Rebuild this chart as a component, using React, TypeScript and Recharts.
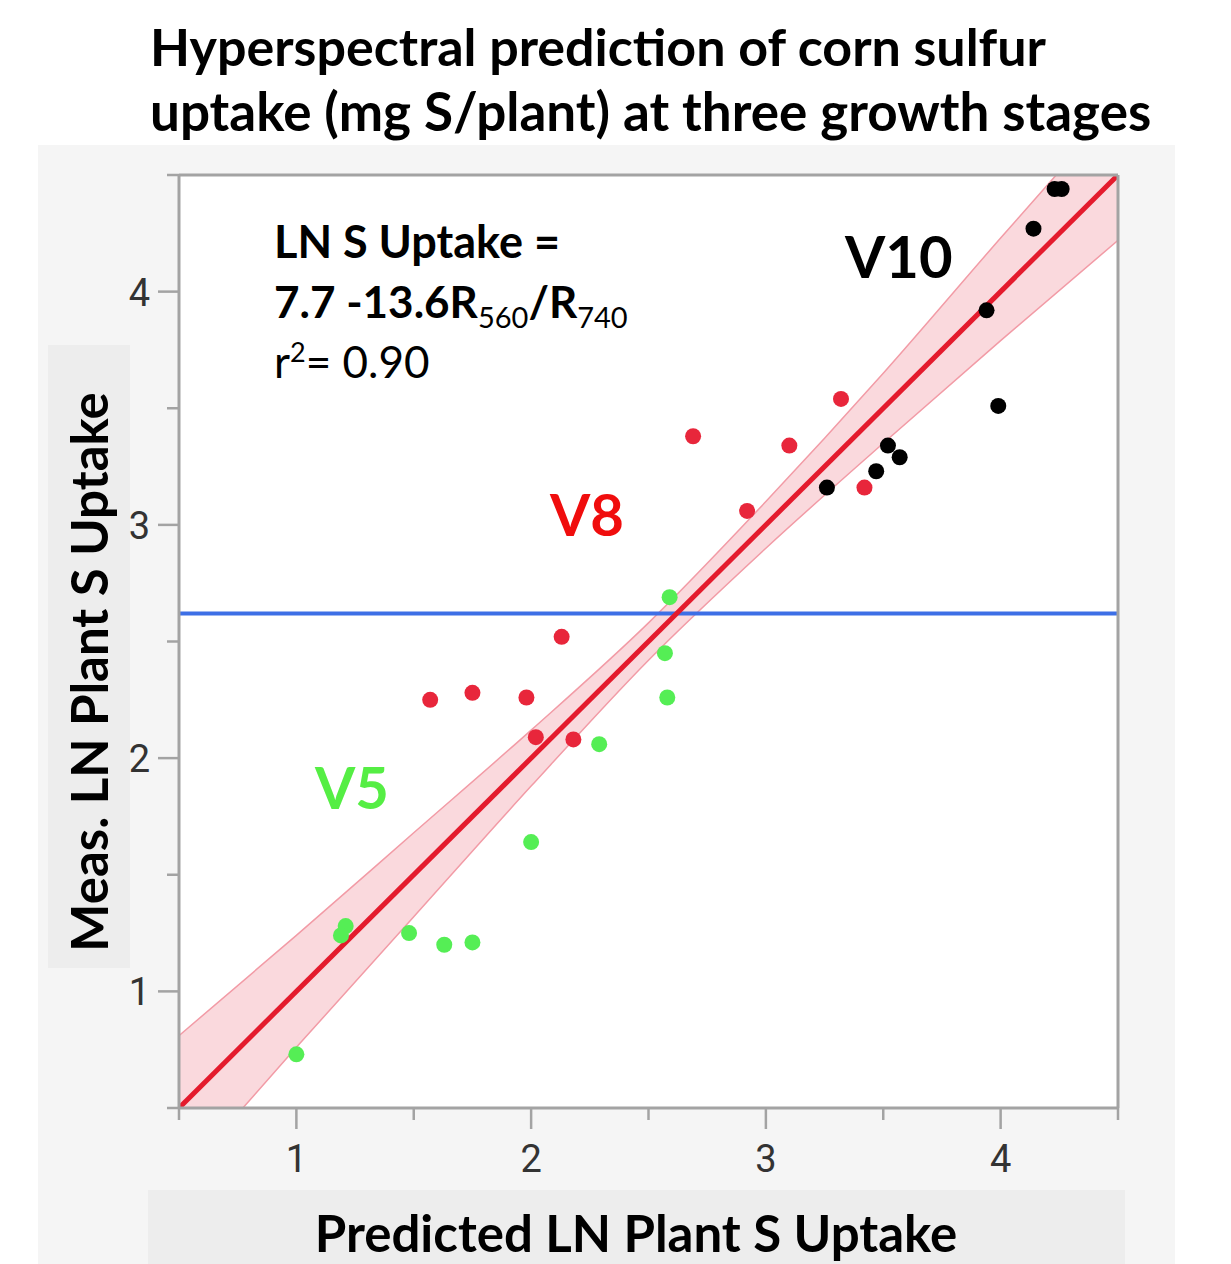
import React from "react";
import {
  ComposedChart,
  Area,
  Line,
  Scatter,
  XAxis,
  YAxis,
  CartesianGrid,
  ReferenceLine,
} from "recharts";

// predicted (x) vs measured (y) LN plant S uptake, per growth stage
const v5Pred = [1.0, 1.21, 1.19, 1.48, 1.63, 1.75, 2.0, 2.29, 2.58, 2.57, 2.59];
const v5Meas = [0.73, 1.28, 1.24, 1.25, 1.2, 1.21, 1.64, 2.06, 2.26, 2.45, 2.69];
const v8Pred = [1.57, 1.75, 1.98, 2.13, 2.02, 2.18, 2.92, 2.69, 3.1, 3.32, 3.42];
const v8Meas = [2.25, 2.28, 2.26, 2.52, 2.09, 2.08, 3.06, 3.38, 3.34, 3.54, 3.16];
const v10Pred = [3.26, 3.47, 3.52, 3.57, 3.99, 3.94, 4.14, 4.23, 4.26];
const v10Meas = [3.16, 3.23, 3.34, 3.29, 3.51, 3.92, 4.27, 4.44, 4.44];

// fit line and its confidence band
const fitX = [0.5, 4.5];
const fitY = [0.5, 4.5];
const bandX = [0.5, 1, 1.5, 2, 2.5, 3, 3.5, 4, 4.5];
const bandLow = [0.19, 0.76, 1.32, 1.88, 2.42, 2.9, 3.35, 3.79, 4.22];
const bandHigh = [0.81, 1.24, 1.68, 2.12, 2.58, 3.1, 3.65, 4.23, 4.8];

const meanMeasured = 2.62;
const axisTicks = [0.5, 1, 1.5, 2, 2.5, 3, 3.5, 4, 4.5];

const AXIS_GRAY = "#a3a3a3";
const TICK_FONT = "'Liberation Sans Narrow', Roboto, sans-serif";
const TEXT_FONT = "Lato, sans-serif";

const toPoints = (xs: number[], ys: number[]) => xs.map((x, i) => ({ x, y: ys[i] }));

const v5Data = toPoints(v5Pred, v5Meas);
const v8Data = toPoints(v8Pred, v8Meas);
const v10Data = toPoints(v10Pred, v10Meas);
const fitData = toPoints(fitX, fitY);
const bandData = bandX.map((x, i) => ({ x, band: [bandLow[i], bandHigh[i]] }));

const dot = (fill: string) => (p: any) => <circle cx={p.cx} cy={p.cy} r={8} fill={fill} />;

function XTick(props: any) {
  const { x, y, payload } = props;
  const v = payload.value;
  const major = Number.isInteger(v);
  return (
    <g>
      <line x1={x} x2={x} y1={y} y2={y + (major ? 21 : 12)} stroke={AXIS_GRAY} strokeWidth={2.5} />
      {major && (
        <text x={x} y={y + 64} textAnchor="middle" fontSize={38} fill="#333" fontFamily={TICK_FONT}>
          {v}
        </text>
      )}
    </g>
  );
}

function YTick(props: any) {
  const { x, y, payload } = props;
  const v = payload.value;
  const major = Number.isInteger(v);
  return (
    <g>
      <line x1={x} x2={x - (major ? 21 : 12)} y1={y} y2={y} stroke={AXIS_GRAY} strokeWidth={2.5} />
      {major && (
        <text x={x - 29} y={y + 14} textAnchor="end" fontSize={38} fill="#333" fontFamily={TICK_FONT}>
          {v}
        </text>
      )}
    </g>
  );
}

export default function App() {
  return (
    <div style={{ position: "absolute", left: 0, top: 0, width: 1231, height: 1264, background: "#fff", overflow: "hidden" }}>
      <div style={{ position: "absolute", left: 38, top: 145, width: 1137, height: 1119, background: "#f5f5f5" }} />
      <div style={{ position: "absolute", left: 48, top: 345, width: 82, height: 623, background: "#ededed" }} />
      <div style={{ position: "absolute", left: 148, top: 1190, width: 977, height: 74, background: "#ededed" }} />

      <div style={{ position: "absolute", left: 0, top: 0 }}>
        <ComposedChart width={1231} height={1264} margin={{ top: 175, right: 113, bottom: 96, left: 119 }}>
          <CartesianGrid horizontal={false} vertical={false} fill="#ffffff" />
          <XAxis
            dataKey="x"
            type="number"
            domain={[0.5, 4.5]}
            ticks={axisTicks}
            interval={0}
            allowDataOverflow
            height={60}
            tickSize={0}
            tickMargin={0}
            tickLine={false}
            axisLine={{ stroke: AXIS_GRAY, strokeWidth: 3 }}
            tick={<XTick />}
          />
          <YAxis
            dataKey="y"
            type="number"
            domain={[0.5, 4.5]}
            ticks={axisTicks}
            interval={0}
            allowDataOverflow
            width={60}
            tickSize={0}
            tickMargin={0}
            tickLine={false}
            axisLine={{ stroke: AXIS_GRAY, strokeWidth: 3 }}
            tick={<YTick />}
          />
          <ReferenceLine y={meanMeasured} stroke="#3d6fe6" strokeWidth={4} />
          <Area
            data={bandData}
            dataKey="band"
            type="monotone"
            fill="#f5b3bc"
            fillOpacity={0.5}
            stroke="#f29ba6"
            strokeWidth={1.5}
            dot={false}
            activeDot={false}
            isAnimationActive={false}
          />
          <Line
            data={fitData}
            dataKey="y"
            type="linear"
            stroke="#e41b2d"
            strokeWidth={5}
            dot={false}
            activeDot={false}
            isAnimationActive={false}
          />
          <ReferenceLine x={4.5} stroke={AXIS_GRAY} strokeWidth={3} />
          <ReferenceLine y={4.5} stroke={AXIS_GRAY} strokeWidth={3} />
          <Scatter data={v5Data} fill="#55ee55" shape={dot("#55ee55")} isAnimationActive={false} />
          <Scatter data={v8Data} fill="#e8263b" shape={dot("#e8263b")} isAnimationActive={false} />
          <Scatter data={v10Data} fill="#000" shape={dot("#000")} isAnimationActive={false} />
        </ComposedChart>
      </div>

      <svg
        width={1231}
        height={1264}
        style={{ position: "absolute", left: 0, top: 0, pointerEvents: "none" }}
        fontFamily={TEXT_FONT}
      >
        <text x={150} y={66} fontSize={52} fontWeight="bold" fill="#000">
          Hyperspectral prediction of corn sulfur
        </text>
        <text x={150} y={131} fontSize={53} fontWeight="bold" fill="#000">
          uptake (mg S/plant) at three growth stages
        </text>

        <text x={274} y={258} fontSize={45} fontWeight="bold" fill="#000">
          LN S Uptake =
        </text>
        <text x={274} y={318} fontSize={44} fontWeight="bold" fill="#000">
          7.7 -13.6R
          <tspan dy={10} fontSize={29} fontWeight="normal">560</tspan>
          <tspan dy={-10}>/R</tspan>
          <tspan dy={10} fontSize={29} fontWeight="normal">740</tspan>
        </text>
        <text x={274} y={378} fontSize={44} fill="#000">
          r<tspan dy={-16} fontSize={27}>2</tspan>
          <tspan dy={16}>= 0.90</tspan>
        </text>

        <text x={845} y={278} fontSize={58} fontWeight="bold" fill="#000">V10</text>
        <text x={550} y={536} fontSize={58} fontWeight="bold" fill="#f00d0d">V8</text>
        <text x={315} y={809} fontSize={58} fontWeight="bold" fill="#55ee44">V5</text>

        <text
          x={108}
          y={672}
          transform="rotate(-90 108 672)"
          textAnchor="middle"
          fontSize={51}
          fontWeight="bold"
          fill="#000"
        >
          Meas. LN Plant S Uptake
        </text>
        <text x={636} y={1252} textAnchor="middle" fontSize={51} fontWeight="bold" fill="#000">
          Predicted LN Plant S Uptake
        </text>
      </svg>
    </div>
  );
}
